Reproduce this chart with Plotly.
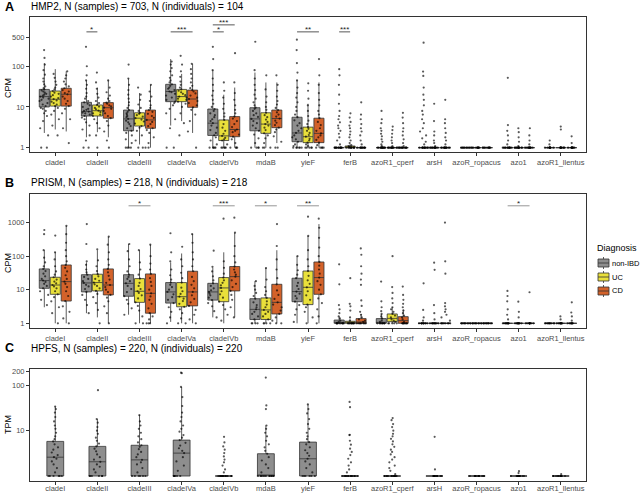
import math
import plotly.graph_objects as go

genes = ["cladeI", "cladeII", "cladeIII", "cladeIVa", "cladeIVb", "mdaB", "yieF",
         "ferB", "azoR1_cperf", "arsH", "azoR_ropacus", "azo1", "azoR1_llentus"]
groups = ["non-IBD", "UC", "CD"]
fill_colors = {"non-IBD": "#8E8E8E", "UC": "#E9E03B", "CD": "#D3622A"}

# ---------------- Panel A (HMP2, CPM) ----------------
A_nonIBD_q1 = [10, 6, 2.6, 13.5, 2.0, 2.6, 1.4, 1, 1, 1, 1, 1, 1]
A_nonIBD_med = [18, 7.7, 5.1, 24, 4.0, 5.1, 2.3, 1, 1, 1, 1, 1, 1]
A_nonIBD_q3 = [27, 13, 8.4, 36, 8.9, 9.6, 5.6, 1, 1, 1, 1, 1, 1]
A_nonIBD_lo = [2.3, 1.8, 1, 3.5, 1, 1, 1, 1, 1, 1, 1, 1, 1]
A_nonIBD_hi = [120, 45, 50, 150, 80, 70, 45, 1, 1, 1, 1, 1, 1]

A_UC_q1 = [10.5, 6, 3.4, 13.5, 1.5, 2.25, 1.33, 1, 1, 1, 1, 1, 1]
A_UC_med = [15.5, 8.1, 5.3, 18, 1.95, 3.8, 1.86, 1, 1, 1, 1, 1, 1]
A_UC_q3 = [24.7, 11.2, 7.2, 27, 4.8, 7.2, 3.2, 1.1, 1, 1, 1, 1, 1]
A_UC_lo = [2.8, 2.4, 1.2, 4.5, 1, 1, 1, 1, 1, 1, 1, 1, 1]
A_UC_hi = [85, 30, 22, 65, 20, 40, 12, 1.2, 1, 1, 1, 1, 1]

A_CD_q1 = [10.5, 5.3, 3.0, 9.8, 1.86, 3.1, 1.33, 1, 1, 1, 1, 1, 1]
A_CD_med = [20.5, 9.6, 4.8, 15.7, 2.8, 5.2, 2.25, 1, 1, 1, 1, 1, 1]
A_CD_q3 = [28.8, 12.8, 8.4, 26, 5.8, 8.4, 5.3, 1, 1, 1, 1, 1, 1]
A_CD_lo = [2.5, 1.8, 1, 2.3, 1, 1.3, 1, 1, 1, 1, 1, 1, 1]
A_CD_hi = [75, 45, 35, 115, 30, 40, 40, 1, 1, 1, 1, 1, 1]

A_nonIBD_pts = [
    [1, 1, 2, 3, 4.5, 6, 7, 8, 9, 9.5, 10.5, 11.5, 12.5, 14, 15, 16, 17, 18, 19, 20, 21, 22.5, 24, 25.5, 27, 29, 32, 36, 42, 50, 62, 80, 110, 160, 250],
    [1, 1, 1.5, 2, 2.8, 3.5, 4.2, 5, 5.5, 6, 6.5, 7, 7.3, 7.7, 8, 8.5, 9, 10, 11, 12, 13, 14, 16, 18, 22, 28, 35, 45, 60, 100, 300],
    [1, 1, 1, 1, 1.3, 1.6, 2, 2.3, 2.6, 3, 3.4, 3.8, 4.2, 4.6, 5.1, 5.6, 6, 6.5, 7, 7.6, 8.4, 9.5, 11, 13, 16, 20, 26, 35, 50, 110],
    [1, 1, 3, 5, 7, 9, 11, 12.5, 13.5, 15, 17, 19, 21, 23, 24, 26, 28, 30, 33, 36, 40, 45, 52, 60, 75, 90, 110, 130],
    [1, 1, 1, 1, 1, 1.2, 1.5, 1.8, 2, 2.3, 2.7, 3.1, 3.5, 4, 4.5, 5, 5.6, 6.3, 7, 8, 8.9, 10, 12, 15, 19, 25, 35, 50, 80, 150, 300],
    [1, 1, 1, 1, 1.3, 1.7, 2.1, 2.6, 3, 3.5, 4, 4.5, 5.1, 5.7, 6.3, 7, 8, 9, 9.6, 11, 13, 16, 20, 26, 35, 50, 80, 400],
    [1, 1, 1, 1, 1, 1, 1.1, 1.2, 1.4, 1.6, 1.8, 2, 2.3, 2.6, 3, 3.5, 4, 4.7, 5.6, 6.5, 8, 10, 13, 17, 22, 30, 45, 70, 120, 250, 450],
    [1] * 12 + [1.2, 1.5, 1.8, 2.2, 2.6, 3, 3.5, 4.2, 5, 6, 8, 12, 20, 35, 60, 85],
    [1] * 12 + [1.1, 1.2, 1.4, 1.6, 1.9, 2.2, 2.6, 3, 4, 5, 8],
    [1] * 12 + [1.2, 1.4, 1.7, 2, 2.5, 3, 4, 5, 6.5, 8, 11, 15, 20, 30, 58, 74, 380],
    [1] * 10,
    [1] * 12 + [1.2, 1.5, 2, 2.6, 3.6, 52],
    [1] * 10 + [1.2, 1.5],
]
A_UC_pts = [
    [2, 3.5, 5, 6.5, 8, 9.5, 10.5, 11.5, 12.5, 13.5, 14.5, 15.5, 16.5, 18, 19.5, 21, 22.5, 24.7, 27, 30, 35, 42, 52, 65],
    [1, 2, 3, 4, 5, 6, 6.5, 7, 7.5, 8.1, 8.8, 9.5, 10.2, 11.2, 12.5, 14, 17, 21, 28, 40, 70],
    [1, 1, 1.5, 2, 2.6, 3.1, 3.4, 3.9, 4.4, 4.9, 5.3, 5.8, 6.3, 6.8, 7.2, 8, 9.5, 11.5, 15, 20, 30],
    [2, 4, 7, 10, 12, 13.5, 15, 16, 17, 18, 19.5, 21, 23, 25, 27, 30, 35, 42, 55, 75, 110, 180],
    [1, 1, 1, 1, 1, 1.2, 1.5, 1.6, 1.75, 1.95, 2.2, 2.6, 3.1, 3.8, 4.8, 5.8, 7, 9, 12, 17, 25, 40],
    [1, 1, 1, 1.3, 1.7, 2, 2.25, 2.7, 3.1, 3.5, 3.8, 4.3, 4.9, 5.6, 6.3, 7.2, 8.5, 10, 13, 18, 27, 60],
    [1, 1, 1, 1, 1, 1.1, 1.2, 1.33, 1.5, 1.65, 1.86, 2.05, 2.3, 2.6, 2.9, 3.2, 3.8, 4.6, 6, 8, 11, 16, 25, 38],
    [1] * 10 + [1.05, 1.1, 1.15, 1.3, 1.5, 1.8, 2.1, 2.5, 3, 3.5, 4.3, 5.5, 7],
    [1] * 12 + [1.1, 1.3, 1.5, 1.8, 2.2, 2.7, 3.3],
    [1] * 12 + [1.1, 1.3, 1.5, 2, 2.5, 4.5, 12],
    [1] * 10,
    [1] * 12 + [1.1, 1.4, 1.8, 2.4, 3],
    [1] * 10 + [2.8, 3.3],
]
A_CD_pts = [
    [1.3, 3, 5, 7, 9, 10.5, 12, 14, 16, 18, 20.5, 22, 24, 26, 28.8, 32, 36, 42, 50, 60, 75],
    [1, 1.5, 2.5, 3.5, 4.5, 5.3, 6, 7, 8, 9, 9.6, 10.3, 11, 12, 12.8, 14, 16, 19, 23, 30, 45],
    [1, 1, 1.3, 1.8, 2.3, 2.7, 3, 3.4, 3.8, 4.3, 4.8, 5.4, 6, 6.8, 7.6, 8.4, 9.5, 11, 14, 18, 24, 35],
    [1, 2.5, 4.5, 6.5, 8.5, 9.8, 11, 12.5, 14, 15.7, 17, 19, 21.5, 24, 26, 29, 33, 40, 50, 65, 85, 115],
    [1, 1, 1, 1, 1.3, 1.6, 1.86, 2.1, 2.4, 2.6, 2.8, 3.2, 3.8, 4.5, 5.2, 5.8, 7, 8.5, 11, 15, 22, 40, 210],
    [1, 1, 1.4, 1.9, 2.4, 2.8, 3.1, 3.6, 4.1, 4.6, 5.2, 5.8, 6.5, 7.4, 8.4, 9.5, 11.5, 14, 18, 25, 35, 60],
    [1, 1, 1, 1, 1, 1.15, 1.33, 1.55, 1.8, 2, 2.25, 2.6, 3, 3.6, 4.3, 5.3, 6.5, 8, 11, 15, 22, 35, 60, 150],
    [1] * 10 + [1.2, 1.5, 2, 2.5, 3, 3.8, 5, 6.5, 13],
    [1] * 12 + [1.1, 1.3, 1.6, 2, 2.5, 3, 4, 5.5, 7.2],
    [1] * 12 + [1.2, 1.5, 1.8, 2.3, 3, 4, 5, 15],
    [1] * 10,
    [1] * 12 + [1.2, 1.5, 2, 3],
    [1] * 10 + [1.3, 1.9],
]

# ---------------- Panel B (PRISM, CPM) ----------------
B_nonIBD_q1 = [11, 8.6, 6.4, 4.0, 4.9, 1.3, 4.4, 1, 1, 1, 1, 1, 1]
B_nonIBD_med = [18.7, 15.9, 15.5, 8.6, 8.6, 2.6, 8.8, 1, 1.05, 1, 1, 1, 1]
B_nonIBD_q3 = [41.6, 28, 28, 16.3, 15.5, 5.4, 22, 1.25, 1.38, 1, 1, 1, 1]
B_nonIBD_lo = [3, 2, 1.8, 1.1, 1.5, 1, 1, 1, 1, 1, 1, 1, 1]
B_nonIBD_hi = [150, 65, 230, 65, 45, 18, 100, 1.6, 1.9, 1, 1, 1, 1]

B_UC_q1 = [7.3, 9.2, 4.2, 3.1, 4.4, 1.3, 3.6, 1, 1.12, 1, 1, 1, 1]
B_UC_med = [13.8, 16.3, 9, 6.2, 11.3, 2.5, 11.8, 1, 1.4, 1, 1, 1, 1]
B_UC_q3 = [23.5, 29, 21.4, 16.3, 23, 5.7, 36, 1.15, 1.9, 1, 1, 1, 1]
B_UC_lo = [1, 1.5, 1, 1, 1, 1, 1, 1, 1, 1, 1, 1, 1]
B_UC_hi = [130, 150, 150, 120, 130, 45, 400, 1.3, 3.0, 1, 1, 1, 1]

B_CD_q1 = [4.6, 7, 2.0, 3.3, 9.2, 1.9, 7.3, 1, 1, 1, 1, 1, 1]
B_CD_med = [17.4, 13.8, 7.8, 8.6, 24.5, 4.2, 23, 1.1, 1.2, 1, 1, 1, 1]
B_CD_q3 = [54.6, 41.6, 29.5, 35.5, 49, 14.5, 67, 1.38, 1.58, 1, 1, 1, 1]
B_CD_lo = [1, 1, 1, 1, 1.5, 1, 1, 1, 1, 1, 1, 1, 1]
B_CD_hi = [800, 380, 220, 450, 500, 150, 900, 1.9, 2.6, 1, 1, 1, 1]

B_nonIBD_pts = [
    [3.5, 5, 7, 9, 11, 13, 15, 17, 18.7, 21, 25, 30, 36, 41.6, 50, 65, 90, 150, 450, 600],
    [2, 3.5, 5, 7, 8.6, 10.5, 12.5, 14, 15.9, 18, 21, 24, 28, 33, 40, 55, 70, 230, 900],
    [1.8, 2.8, 3.8, 5, 6.4, 8.5, 10.5, 13, 15.5, 18, 21, 24, 28, 35, 50, 80, 140, 230],
    [1, 1.5, 2.2, 3, 4, 5, 6, 7.3, 8.6, 10, 12, 14, 16.3, 20, 27, 40, 70, 130, 480],
    [1.5, 2.3, 3.2, 4, 4.9, 5.8, 6.8, 7.7, 8.6, 9.6, 11, 13, 15.5, 19, 25, 35, 48, 145],
    [1, 1, 1, 1, 1.3, 1.6, 1.9, 2.2, 2.6, 3, 3.5, 4.2, 5.4, 6.5, 8, 10, 13, 18],
    [1.1, 1.8, 2.6, 3.5, 4.4, 5.5, 6.5, 7.6, 8.8, 10.5, 13, 16, 22, 28, 38, 55, 100],
    [1] * 10 + [1.1, 1.2, 1.4, 1.6, 2, 2.6, 3.5, 14.5, 57],
    [1] * 8 + [1.1, 1.2, 1.4, 1.6, 1.9, 2.3, 3, 4.5, 17.5],
    [1] * 10 + [1.2, 1.5, 2.5, 15.5],
    [1] * 10,
    [1] * 10 + [1.3, 1.8, 2.6, 4.5, 6.5, 9.2],
    [1] * 10,
]
B_UC_pts = [
    [1, 2, 3, 4.5, 6, 7.3, 9, 11, 12.5, 13.8, 15.5, 17.5, 20, 23.5, 28, 35, 50, 80, 130, 410],
    [1, 2.5, 4, 6, 7.5, 9.2, 11, 13, 14.5, 16.3, 18.5, 21, 25, 29, 36, 50, 75, 160],
    [1, 1, 1.6, 2.4, 3.3, 4.2, 5.5, 6.8, 8, 9, 10.5, 13, 16, 21.4, 28, 40, 65, 150],
    [1, 1, 1.4, 2, 2.6, 3.1, 3.8, 4.6, 5.4, 6.2, 7.5, 9, 11.5, 16.3, 22, 32, 50, 80, 190],
    [1.2, 1.8, 2.6, 3.5, 4.4, 5.8, 7.3, 9, 11.3, 13.5, 16, 19, 23, 30, 45, 70, 1300],
    [1, 1, 1, 1, 1.3, 1.6, 1.9, 2.2, 2.5, 3, 3.6, 4.5, 5.7, 7, 9, 12, 20, 44],
    [1, 1.5, 2.2, 3, 3.6, 5, 6.8, 9, 11.8, 15, 19, 26, 36, 50, 80, 150, 400, 1500],
    [1] * 10 + [1.2, 1.5, 2.4, 3.2, 3.8, 22],
    [1] * 5 + [1.1, 1.2, 1.3, 1.5, 1.7, 1.9, 2.2, 2.6, 3, 4, 5.5, 8, 12, 100],
    [1] * 10 + [1.3, 2, 3.5, 39, 64],
    [1] * 10,
    [1] * 10 + [1.5, 2.2, 4.4],
    [1] * 10 + [1.3, 1.6],
]
B_CD_pts = [
    [1, 1.4, 2.2, 3.2, 4.6, 6.5, 9, 12, 15, 17.4, 21, 27, 35, 45, 54.6, 70, 100, 150, 250, 450, 800],
    [1, 2, 3.2, 4.5, 5.8, 7, 8.5, 10, 12, 13.8, 16, 20, 26, 33, 41.6, 55, 80, 130, 220, 380],
    [1, 1, 1, 1.3, 1.6, 2, 2.8, 3.8, 5, 6.3, 7.8, 10, 13, 17, 22, 29.5, 40, 60, 100, 220],
    [1, 1.3, 1.8, 2.5, 3.3, 4.2, 5.3, 6.8, 8.6, 11, 14, 18, 24, 35.5, 50, 80, 130, 250, 450],
    [1.5, 3, 5, 7, 9.2, 12, 15, 19, 24.5, 28, 33, 40, 49, 65, 100, 200, 500, 1400],
    [1, 1, 1.2, 1.5, 1.9, 2.4, 3, 3.6, 4.2, 5.3, 7, 9.5, 14.5, 22, 40, 80, 200, 900],
    [1, 1.6, 2.6, 4, 5.5, 7.3, 10, 14, 18, 23, 30, 40, 52, 67, 100, 180, 350, 700, 1300],
    [1] * 8 + [1.1, 1.2, 1.3, 1.5, 1.8, 2.2, 3.3, 4.8, 14, 20, 30, 50, 110, 170],
    [1] * 8 + [1.1, 1.3, 1.5, 1.7, 2, 2.4, 3, 3.8, 5, 7, 12.4],
    [1] * 8 + [1.2, 1.5, 1.8, 2.2, 2.6, 3.2, 4, 30, 70, 1000],
    [1] * 10,
    [1] * 10 + [8.4],
    [1] * 8 + [1.2, 1.6, 2.1, 4.2],
]

# ---------------- Panel C (HPFS, TPM) ----------------
C_q1 = [1, 1, 1, 1, 1, 1, 1, 1, 1, 1, 1, 1, 1]
C_med = [2.6, 2.06, 2.27, 3.2, 1, 1, 2.4, 1, 1, 1, 1, 1, 1]
C_q3 = [5.8, 4.5, 4.77, 6.2, 1, 3.1, 5.6, 1, 1, 1, 1, 1, 1]
C_lo = [1, 1, 1, 1, 1, 1, 1, 1, 1, 1, 1, 1, 1]
C_hi = [34, 18, 22, 92, 1, 13, 38, 1, 1, 1, 1, 1, 1]
C_pts = [
    [1, 1, 1, 1, 1, 1, 1.2, 1.5, 1.8, 2.1, 2.4, 2.6, 2.9, 3.3, 3.8, 4.3, 5, 5.8, 6.5, 7.5, 9, 11, 13, 16, 20, 25, 34, 30],
    [1, 1, 1, 1, 1, 1, 1.2, 1.4, 1.6, 1.8, 2.06, 2.3, 2.6, 3, 3.5, 4, 4.5, 5.2, 6, 7, 8.5, 10, 12, 15, 18, 78],
    [1, 1, 1, 1, 1, 1, 1.2, 1.5, 1.8, 2, 2.27, 2.6, 3, 3.4, 3.9, 4.4, 4.77, 5.5, 6.5, 7.5, 9, 11, 13, 16, 22],
    [1, 1, 1, 1, 1, 1, 1.3, 1.7, 2.1, 2.6, 3.2, 3.6, 4.1, 4.7, 5.4, 6.2, 7, 8, 9.5, 11, 13, 16, 20, 25, 35, 55, 92, 185, 190],
    [1] * 14 + [1.2, 1.4, 1.7, 2, 2.3, 2.7, 3.2, 3.8, 4.5, 5.5, 7.3],
    [1] * 12 + [1.2, 1.5, 1.8, 2.2, 2.6, 3.1, 3.6, 4.3, 5, 6, 7.5, 9, 11, 13, 30, 36, 148],
    [1, 1, 1, 1, 1, 1, 1.2, 1.5, 1.8, 2.1, 2.4, 2.8, 3.2, 3.7, 4.3, 5, 5.6, 6.5, 7.5, 9, 11, 14, 18, 24, 30, 38],
    [1] * 14 + [1.2, 1.4, 1.7, 2, 2.4, 2.9, 3.4, 4, 4.9, 6, 8.1, 8, 33, 43],
    [1] * 14 + [1.1, 1.3, 1.5, 1.7, 2, 2.3, 2.6, 3, 3.4, 3.8, 4.4, 5, 5.8, 6.6, 7.5, 8.5, 10, 12, 14, 17, 19],
    [1] * 12 + [1.4, 7.3],
    [1] * 12,
    [1] * 12 + [1.28, 1.16],
    [1] * 12 + [1.1],
]

# significance annotations
A_sig_gene = ["cladeII", "cladeIVa", "cladeIVb", "cladeIVb", "yieF", "ferB"]
A_sig_to = ["UC", "CD", "UC", "CD", "CD", "UC"]
A_sig_label = ["*", "***", "*", "***", "**", "***"]
A_sig_y = [700, 700, 700, 1040, 700, 700]
B_sig_gene = ["cladeIII", "cladeIVb", "mdaB", "yieF", "azo1"]
B_sig_to = ["CD", "CD", "CD", "CD", "CD"]
B_sig_label = ["*", "***", "*", "**", "*"]
B_sig_y = [3150, 3150, 3150, 3150, 3150]

# ---------------- layout geometry helpers ----------------
W, H = 640, 495
ML, MR, MT, MB = 30, 54, 17, 14
PW, PH = W - ML - MR, H - MT - MB


def pxx(x):
    return (x - ML) / PW


def pxy(y):
    return (H - MB - y) / PH


BOXGAP = 0.22
BOXGROUPGAP = 0.08
DODGE = (1 - BOXGAP) / 3
xs = list(range(len(genes)))
FONT = "Liberation Sans, Arial, sans-serif"

fig = go.Figure()


def flat(pts):
    X, Y = [], []
    for i, vals in enumerate(pts):
        X += [i] * len(vals)
        Y += vals
    return X, Y


def add_panel(stats, pts, xa, ya, width=None):
    for g in stats:
        q1, med, q3, lo, hi = stats[g]
        kw = dict(width=width) if width else {}
        fig.add_trace(go.Box(
            x=xs, q1=q1, median=med, q3=q3, lowerfence=lo, upperfence=hi,
            fillcolor=fill_colors[g], line=dict(color="#333333", width=0.8),
            whiskerwidth=0, boxpoints=False, offsetgroup=g, name=g,
            xaxis=xa, yaxis=ya, showlegend=False, **kw))
    for g in stats:
        X, Y = flat(pts[g])
        kw = dict(width=width) if width else {}
        fig.add_trace(go.Box(
            x=X, y=Y, boxpoints="all", jitter=1, pointpos=0,
            marker=dict(color="rgba(0,0,0,0.65)", size=2.2),
            line=dict(color="rgba(0,0,0,0)", width=0), fillcolor="rgba(0,0,0,0)",
            offsetgroup=g, name=g, xaxis=xa, yaxis=ya, showlegend=False, **kw))


add_panel({"non-IBD": (A_nonIBD_q1, A_nonIBD_med, A_nonIBD_q3, A_nonIBD_lo, A_nonIBD_hi),
           "UC": (A_UC_q1, A_UC_med, A_UC_q3, A_UC_lo, A_UC_hi),
           "CD": (A_CD_q1, A_CD_med, A_CD_q3, A_CD_lo, A_CD_hi)},
          {"non-IBD": A_nonIBD_pts, "UC": A_UC_pts, "CD": A_CD_pts}, "x", "y")
add_panel({"non-IBD": (B_nonIBD_q1, B_nonIBD_med, B_nonIBD_q3, B_nonIBD_lo, B_nonIBD_hi),
           "UC": (B_UC_q1, B_UC_med, B_UC_q3, B_UC_lo, B_UC_hi),
           "CD": (B_CD_q1, B_CD_med, B_CD_q3, B_CD_lo, B_CD_hi)},
          {"non-IBD": B_nonIBD_pts, "UC": B_UC_pts, "CD": B_CD_pts}, "x2", "y2")
add_panel({"non-IBD": (C_q1, C_med, C_q3, C_lo, C_hi)},
          {"non-IBD": C_pts}, "x3", "y3", width=0.4)

annotations = []
offs = {"non-IBD": -DODGE, "UC": 0.0, "CD": DODGE}


def add_sig(gene_l, to_l, lab_l, y_l, xa, ya, col):
    for gname, to, lab, yv in zip(gene_l, to_l, lab_l, y_l):
        i = genes.index(gname)
        x0, x1 = i + offs["non-IBD"], i + offs[to]
        fig.add_trace(go.Scatter(x=[x0, x1], y=[yv, yv], mode="lines",
                                 line=dict(color=col, width=0.9), xaxis=xa, yaxis=ya,
                                 showlegend=False, hoverinfo="skip"))
        annotations.append(dict(x=(x0 + x1) / 2, y=math.log10(yv), xref=xa, yref=ya,
                                text=lab, showarrow=False, yshift=2,
                                font=dict(size=8, color="#222", family=FONT)))


add_sig(A_sig_gene, A_sig_to, A_sig_label, A_sig_y, "x", "y", "#444444")
add_sig(B_sig_gene, B_sig_to, B_sig_label, B_sig_y, "x2", "y2", "#8a8a8a")

axis_common = dict(showline=True, mirror=True, linecolor="#333333", linewidth=1,
                   ticks="outside", ticklen=3, tickcolor="#333333", tickwidth=0.8,
                   showgrid=False, zeroline=False, automargin=False,
                   tickfont=dict(size=7.5, color="#4D4D4D", family=FONT))
xax = dict(axis_common, range=[-0.6, 12.6], tickvals=xs, ticktext=genes)

fig.update_layout(
    template="none",
    width=W, height=H,
    margin=dict(l=ML, r=MR, t=MT, b=MB),
    paper_bgcolor="white", plot_bgcolor="white",
    boxmode="group", boxgap=BOXGAP, boxgroupgap=BOXGROUPGAP,
    hovermode=False, showlegend=False,
    font=dict(family=FONT),
    xaxis=dict(xax, anchor="y", domain=[0, 1]),
    xaxis2=dict(xax, anchor="y2", domain=[0, 1]),
    xaxis3=dict(xax, anchor="y3", domain=[0, 1], ticklabelstandoff=-3),
    yaxis=dict(axis_common, type="log", range=[-0.106, 3.21], tickvals=[1, 10, 100, 500],
               ticktext=["1", "10", "100", "500"], anchor="x", domain=[pxy(152), pxy(17)]),
    yaxis2=dict(axis_common, type="log", range=[-0.14, 3.85], tickvals=[1, 10, 100, 1000],
                ticktext=["1", "10", "100", "1000"], anchor="x2", domain=[pxy(328), pxy(194)]),
    yaxis3=dict(axis_common, type="log", range=[-0.11, 2.36], tickvals=[10, 100, 200],
                ticktext=["10", "100", "200"], anchor="x3", domain=[pxy(481), pxy(369)]),
)

# panel letters, titles and axis titles
panel_titles = [("A", "HMP2, N (samples) = 703, N (individuals) = 104", 7, "CPM", 88),
                ("B", "PRISM, N (samples) = 218, N (individuals) = 218", 183, "CPM", 263),
                ("C", "HPFS, N (samples) = 220, N (individuals) = 220", 348, "TPM", 425)]
for letter, title, ty, ytitle, ycen in panel_titles:
    annotations.append(dict(x=pxx(3), y=pxy(ty), xref="paper", yref="paper", text="<b>%s</b>" % letter,
                            showarrow=False, xanchor="left", yanchor="middle",
                            font=dict(size=12.5, color="black", family=FONT)))
    annotations.append(dict(x=pxx(29), y=pxy(ty), xref="paper", yref="paper", text=title,
                            showarrow=False, xanchor="left", yanchor="middle",
                            font=dict(size=10, color="black", family=FONT)))
    annotations.append(dict(x=pxx(8), y=pxy(ycen), xref="paper", yref="paper", text=ytitle,
                            showarrow=False, textangle=-90, xanchor="center", yanchor="middle",
                            font=dict(size=9, color="black", family=FONT)))

# manual legend
shapes = []
annotations.append(dict(x=pxx(597), y=pxy(248), xref="paper", yref="paper", text="Diagnosis",
                        showarrow=False, xanchor="left", yanchor="middle", xshift=-2,
                        font=dict(size=9, color="black", family=FONT)))
for k, g in enumerate(groups):
    yc = 263 + 14 * k
    shapes.append(dict(type="rect", xref="paper", yref="paper", x0=pxx(598), x1=pxx(609),
                       y0=pxy(yc + 4), y1=pxy(yc - 4), fillcolor=fill_colors[g],
                       line=dict(color="#333333", width=0.8)))
    shapes.append(dict(type="line", xref="paper", yref="paper", x0=pxx(598), x1=pxx(609),
                       y0=pxy(yc), y1=pxy(yc), line=dict(color="#333333", width=0.8)))
    for a, b in [(yc - 6, yc - 4), (yc + 4, yc + 6)]:
        shapes.append(dict(type="line", xref="paper", yref="paper", x0=pxx(603.5), x1=pxx(603.5),
                           y0=pxy(a), y1=pxy(b), line=dict(color="#333333", width=0.8)))
    annotations.append(dict(x=pxx(612), y=pxy(yc), xref="paper", yref="paper", text=g,
                            showarrow=False, xanchor="left", yanchor="middle", xshift=-2,
                            font=dict(size=7.5, color="black", family=FONT)))

fig.update_layout(annotations=annotations, shapes=shapes)
fig.write_html("out.html", config={"displayModeBar": False},
               post_script="document.body.style.margin='0';document.body.style.overflow='hidden';")
